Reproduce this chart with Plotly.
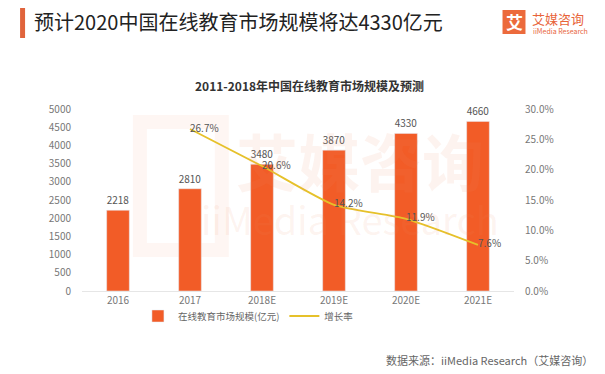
import plotly.graph_objects as go

categories = ["2016", "2017", "2018E", "2019E", "2020E", "2021E"]
market_size = [2218, 2810, 3480, 3870, 4330, 4660]
growth_rate = [None, 0.267, 0.206, 0.142, 0.119, 0.076]
growth_labels = ["", "26.7%", "20.6%", "14.2%", "11.9%", "7.6%"]
left_ticks = list(range(0, 5001, 500))
right_ticks = [0, 0.05, 0.10, 0.15, 0.20, 0.25, 0.30]

FONT = "Noto Sans CJK SC"
BAR = "#f25c27"
LINE = "#e6c12a"
W, H = 605, 374
OFF = 8  # page body margin offset
L, R, T, B = 82 - OFF, 605 - (514.5 - OFF), 109 - OFF, 374 - (291 - OFF)

def px(x):
    return (x - OFF - L) / (W - L - R)

def py(y):
    return (H - B - (y - OFF)) / (H - T - B)

fig = go.Figure()
fig.add_trace(go.Bar(
    x=categories, y=market_size, name="在线教育市场规模(亿元)",
    marker=dict(color=BAR), text=[str(v) for v in market_size],
    textposition="outside", textfont=dict(size=10, color="#555", family=FONT),
    cliponaxis=False,
))
fig.add_trace(go.Scatter(
    x=categories, y=growth_rate, name="增长率", yaxis="y2",
    mode="lines+text", line=dict(color=LINE, width=1.8, shape="spline", smoothing=0.6),
    text=growth_labels, textposition="middle right",
    textfont=dict(size=10, color="#555", family=FONT), cliponaxis=False,
))

annotations = [
    dict(text="预计2020中国在线教育市场规模将达4330亿元", x=px(33), y=py(22), xanchor="left", yanchor="middle",
         font=dict(size=20, color="#222", family=FONT), borderpad=0),
    dict(text="<b>2011-2018年中国在线教育市场规模及预测</b>", x=px(310), y=py(85), xanchor="center", yanchor="middle",
         font=dict(size=12, color="#333", family=FONT)),
    dict(text="数据来源：iiMedia Research（艾媒咨询）", x=px(596), y=py(360), xanchor="right", yanchor="middle",
         font=dict(size=11, color="#666", family=FONT)),
    # logo
    dict(text="<b>艾</b>", x=px(515), y=py(22), xanchor="center", yanchor="middle",
         font=dict(size=17, color="white", family=FONT), borderpad=0),
    dict(text="艾媒咨询", x=px(532), y=py(18), xanchor="left", yanchor="middle",
         font=dict(size=13, color="#e8643a", family=FONT), borderpad=0),
    dict(text="iiMedia Research", x=px(533), y=py(31), xanchor="left", yanchor="middle",
         font=dict(size=7, color="#e8643a", family=FONT), borderpad=0),
    # watermark
    dict(text="<b>艾媒咨询</b>", x=px(360), y=py(160), xanchor="center", yanchor="middle",
         font=dict(size=62, color="rgba(240,140,100,0.10)", family=FONT)),
    dict(text="iiMedia Research", x=px(350), y=py(218), xanchor="center", yanchor="middle",
         font=dict(size=38, color="rgba(240,140,100,0.10)", family=FONT)),
]
for a in annotations:
    a.update(xref="paper", yref="paper", showarrow=False)

shapes = [
    dict(type="rect", xref="paper", yref="paper", x0=px(20), x1=px(25), y0=py(8), y1=py(38),
         fillcolor="#e0643c", line=dict(width=0)),
    dict(type="rect", xref="paper", yref="paper", x0=px(503), x1=px(526), y0=py(10), y1=py(34),
         fillcolor="#ec6a3c", line=dict(width=0)),
    # faint watermark logo block behind 2016/2017
    dict(type="rect", xref="paper", yref="paper", x0=px(140), x1=px(222), y0=py(122), y1=py(250),
         fillcolor="rgba(0,0,0,0)", line=dict(width=14, color="rgba(240,140,100,0.08)"), layer="below"),
]

fig.update_layout(
    width=W, height=H, margin=dict(l=L, r=R, t=T, b=B),
    paper_bgcolor="white", plot_bgcolor="rgba(0,0,0,0)",
    font=dict(family=FONT, color="#777", size=10),
    bargap=0.685, showlegend=True,
    legend=dict(orientation="h", x=px(138), y=py(316), xanchor="left", yanchor="middle",
                font=dict(size=9.5, color="#666", family=FONT), itemwidth=30, bgcolor="rgba(0,0,0,0)"),
    xaxis=dict(showgrid=False, showline=True, linecolor="#e6e6e6", ticks="", tickfont=dict(size=10, color="#777")),
    yaxis=dict(range=[0, 5000], tickvals=left_ticks, showgrid=False, zeroline=False, ticks="",
               tickfont=dict(size=10, color="#777"), ticklabelstandoff=10),
    yaxis2=dict(range=[0, 0.30], tickvals=right_ticks, tickformat=".1%", overlaying="y", side="right",
                showgrid=False, zeroline=False, ticks="", tickfont=dict(size=10, color="#777"), ticklabelstandoff=10),
    annotations=annotations, shapes=shapes,
)
fig.write_html("out.html")
